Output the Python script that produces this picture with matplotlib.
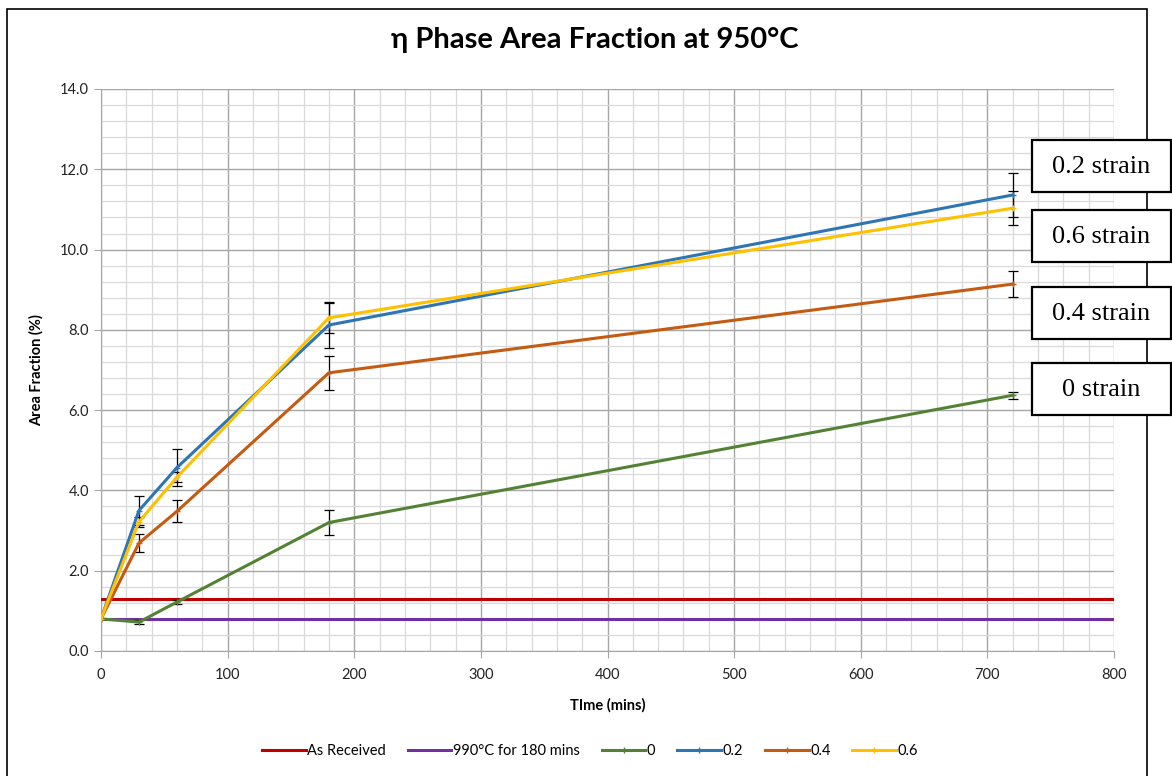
import numpy as np
import matplotlib.pyplot as plt
from matplotlib.patches import Rectangle
from matplotlib.lines import Line2D
from matplotlib.ticker import MultipleLocator

plt.rcParams['font.family'] = ['Lato', 'DejaVu Sans']

# ----------------------------
# Data
# ----------------------------
time = [0, 30, 60, 180, 720]

as_received = 1.30
heat_990 = 0.80

strain_0 = [0.80, 0.72, 1.22, 3.20, 6.37]
strain_02 = [0.80, 3.50, 4.57, 8.12, 11.36]
strain_04 = [0.80, 2.69, 3.48, 6.93, 9.14]
strain_06 = [0.80, 3.22, 4.33, 8.30, 11.03]

err_0 = [0.0, 0.05, 0.05, 0.32, 0.08]
err_02 = [0.0, 0.36, 0.46, 0.58, 0.55]
err_04 = [0.0, 0.22, 0.27, 0.43, 0.33]
err_06 = [0.0, 0.12, 0.12, 0.37, 0.43]

box_labels = ["0.2 strain", "0.6 strain", "0.4 strain", "0 strain"]

W, H = 1172, 776

# ----------------------------
# Figure
# ----------------------------
fig = plt.figure(figsize=(W / 100, H / 100), dpi=100)
ax = fig.add_axes([101 / W, 1 - 651 / H, (1114 - 101) / W, (651 - 89) / H])

# reference lines
ax.plot([0, 800], [as_received] * 2, color="#C00000", lw=2.2, zorder=3)
ax.plot([0, 800], [heat_990] * 2, color="#7030A0", lw=2.2, zorder=3)

handles = [
    Line2D([0], [0], color="#C00000", lw=2.2, label="As Received"),
    Line2D([0], [0], color="#7030A0", lw=2.2, label="990°C for 180 mins"),
]

series = [
    (strain_0, err_0, "#548235", "0"),
    (strain_02, err_02, "#2E75B6", "0.2"),
    (strain_04, err_04, "#C55A11", "0.4"),
    (strain_06, err_06, "#FFC000", "0.6"),
]

for vals, errs, col, lab in series:
    ax.errorbar(time, vals, yerr=errs, color=col, lw=2.2, marker="+", ms=5,
                mec=col, ecolor="black", elinewidth=0.9, capsize=3.5,
                capthick=0.9, zorder=4)
    handles.append(Line2D([0], [0], color=col, lw=2.2, marker="+", ms=4,
                          label=lab))

# ----------------------------
# Axes
# ----------------------------
ax.set_xlim(0, 800)
ax.set_ylim(0, 14)
ax.xaxis.set_major_locator(MultipleLocator(100))
ax.xaxis.set_minor_locator(MultipleLocator(20))
ax.yaxis.set_major_locator(MultipleLocator(2))
ax.yaxis.set_minor_locator(MultipleLocator(0.4))
ax.yaxis.set_major_formatter(lambda v, p: f"{v:.1f}")

ax.grid(which="major", color="#A6A6A6", lw=1.0, zorder=0)
ax.grid(which="minor", color="#D9D9D9", lw=0.9, zorder=0)
ax.set_axisbelow(True)

for s in ["top", "right"]:
    ax.spines[s].set_visible(False)
for s in ["left", "bottom"]:
    ax.spines[s].set_color("#A6A6A6")

ax.tick_params(which="major", length=5, color="#A6A6A6", labelsize=10.5,
               labelcolor="#222222")
ax.tick_params(axis="x", pad=7)
ax.tick_params(which="minor", length=0)

ax.set_xlabel("TIme (mins)", fontsize=10.5, fontweight="bold", labelpad=12)
ax.set_ylabel("Area Fraction (%)", fontsize=10.5, fontweight="bold", labelpad=12)

fig.text(595 / W, 1 - 40 / H, "η Phase Area Fraction at 950°C", ha="center",
         va="center", fontsize=21, fontweight="bold")

# ----------------------------
# Legend
# ----------------------------
fig.legend(handles=handles, loc="center", bbox_to_anchor=(590 / W, 1 - 751 / H),
           ncol=6, frameon=False, fontsize=10.5, handlelength=3.0,
           columnspacing=1.5, handletextpad=0.1)

# ----------------------------
# Chart border and strain boxes
# ----------------------------
fig.add_artist(Rectangle((7 / W, -0.05), (1147 - 7) / W, 1.05 - 9 / H,
                         transform=fig.transFigure, fill=False,
                         edgecolor="black", lw=1.2))

box_tops = [140, 210, 287, 363]
for lab, top in zip(box_labels, box_tops):
    fig.add_artist(Rectangle((1032 / W, 1 - (top + 52) / H), 139 / W, 52 / H,
                             transform=fig.transFigure, facecolor="white",
                             edgecolor="black", lw=1.6, zorder=10))
    fig.text(1101 / W, 1 - (top + 27) / H, lab, ha="center", va="center",
             fontsize=19, family="Liberation Serif", zorder=11)

fig.savefig("out.png", dpi=100)
